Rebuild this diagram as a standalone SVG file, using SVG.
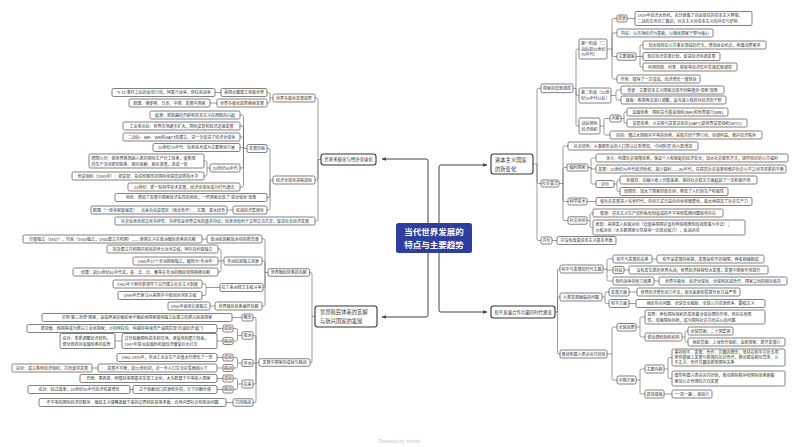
<svg xmlns="http://www.w3.org/2000/svg" width="800" height="447" viewBox="0 0 800 447">
<defs>
<marker id="ah" viewBox="0 0 10 10" refX="9" refY="5" markerWidth="4.5" markerHeight="4.5" markerUnits="userSpaceOnUse" orient="auto"><path d="M0,1L10,5L0,9z" fill="#444"/></marker>
</defs>
<style>
text{font-family:"Liberation Sans","Noto Sans CJK SC",sans-serif;fill:#333;dominant-baseline:central}
.n rect{fill:#fff;stroke:#4a4a4a;stroke-width:.7}
.n text{font-size:4px;text-anchor:middle}
.n text.l{text-anchor:start}
.m rect{fill:#fff;stroke:#333;stroke-width:1.1}
.m text{font-size:4.4px;text-anchor:middle}
.m text.b{font-size:5.3px;text-anchor:start}
.ln path{fill:none;stroke:#666;stroke-width:.65}
.mc path{fill:none;stroke:#444;stroke-width:1;marker-end:url(#ah)}
</style>
<rect width="800" height="447" fill="#fff"/>

<g id="connectors">
<g class="mc">
<path d="M439,238V167Q439,165 441,165H487"/>
<path d="M439,238V310Q439,312 441,312H487"/>
<path d="M428,238V161Q428,159 426,159H382"/>
<path d="M428,238V315Q428,317 426,317H382"/>
</g>
<g class="ln">
<path d="M533,164H537 M537,164V89.8Q537,88.3 538.5,88.3H541 M537,164V182Q537,183.5 538.5,183.5H541 M537,164V239Q537,240.5 538.5,240.5H541"/>
<path d="M573,88.3H576 M576,88.3V50.5Q576,49 577.5,49H579 M576,88.3V94Q576,95.5 577.5,95.5H579 M576,88.3V124.5Q576,126 577.5,126H579"/>
<path d="M607,49H612 M612,49V20Q612,18.5 613.5,18.5H617 M612,49V34.5Q612,33 613.5,33H617 M612,49V55Q612,56.5 613.5,56.5H617 M612,49V77.5Q612,79 613.5,79H617"/>
<path d="M627,18.5H635"/>
<path d="M636,56.5H640 M640,56.5V46.5Q640,45 641.5,45H643 M640,56.5H643 M640,56.5V65.5Q640,67 641.5,67H643"/>
<path d="M611,95.5H616 M616,95.5V91.5Q616,90 617.5,90H621 M616,95.5V98.5Q616,100 617.5,100H621"/>
<path d="M600,126H604 M604,126V120Q604,118.5 605.5,118.5H610 M604,126V133.5Q604,135 605.5,135H610"/>
<path d="M621,118.5H624 M624,118.5V113.5Q624,112 625.5,112H627 M624,118.5V121.5Q624,123 625.5,123H627"/>
<path d="M559,183.5H563 M563,183.5V147.5Q563,146 564.5,146H568 M563,183.5V169Q563,167.5 564.5,167.5H567 M563,183.5V200Q563,201.5 564.5,201.5H568 M563,183.5V219Q563,220.5 564.5,220.5H568"/>
<path d="M588,167.5H591 M591,167.5V159.5Q591,158 592.5,158H596 M591,167.5V169H596 M591,167.5V182.5Q591,184 592.5,184H596"/>
<path d="M614,184H617 M617,184V181.5Q617,180 618.5,180H620 M617,184V190Q617,191.5 618.5,191.5H620"/>
<path d="M587,201.5H596"/>
<path d="M587,220.5H590 M590,220.5V214.5Q590,213 591.5,213H593 M590,220.5V226Q590,227.5 591.5,227.5H593"/>
<path d="M552,240.5H557"/>
<path d="M555,312H557.5 M557.5,312V270.5Q557.5,269 559,269H560 M557.5,312V298.5Q557.5,297 559,297H560 M557.5,312V352.5Q557.5,354 559,354H560"/>
<path d="M603,269H607 M607,269V260.5Q607,259 608.5,259H613 M607,269V270H613 M607,269V279.5Q607,281 608.5,281H613"/>
<path d="M652,259H657 M624,270H629 M654,281H659"/>
<path d="M602,297H605 M605,297V293.5Q605,292 606.5,292H609 M605,297V302Q605,303.5 606.5,303.5H609"/>
<path d="M629,292H637 M629,303.5H636"/>
<path d="M607,354H612 M612,354V328.5Q612,327 613.5,327H617 M612,354V378.5Q612,380 613.5,380H617"/>
<path d="M636,327H640 M640,327V318.5Q640,317 641.5,317H645 M640,327V335.5Q640,337 641.5,337H645"/>
<path d="M682,337H685 M685,337V332.5Q685,331 686.5,331H688 M685,337V340.5Q685,342 686.5,342H688"/>
<path d="M636,380H640 M640,380V370.5Q640,369 641.5,369H645 M640,380V392.5Q640,394 641.5,394H645"/>
<path d="M664,369H668 M668,369V359Q668,357.5 669.5,357.5H672 M668,369V377Q668,378.5 669.5,378.5H672"/>
<path d="M664,394H672"/>
<path d="M321,159.5H318 M318,159.5V99.5Q318,98 316.5,98H315 M318,159.5V178.5Q318,180 316.5,180H315 M318,159.5V219.5Q318,221 316.5,221H315"/>
<path d="M273,98H270 M270,98V94Q270,92.5 268.5,92.5H267 M270,98V101.5Q270,103 268.5,103H267"/>
<path d="M221,92.5H215 M217,103H210"/>
<path d="M273,180H270 M270,180V150Q270,148.5 268.5,148.5H267 M270,180V196Q270,197.5 268.5,197.5H267 M270,180V208.5Q270,210 268.5,210H267"/>
<path d="M247,148.5H243.5 M243.5,148.5V116.5Q243.5,115 242,115H240 M243.5,148.5V127.5Q243.5,126 242,126H240 M243.5,148.5V138.5Q243.5,137 242,137H240 M243.5,148.5V147.5H240 M243.5,148.5V166.5Q243.5,168 242,168H240 M243.5,148.5V185.5Q243.5,187 242,187H240"/>
<path d="M210,168H207 M207,168V162.5Q207,161 205.5,161H204 M207,168V174.5Q207,176 205.5,176H204"/>
<path d="M233,210H227"/>
<path d="M315,316.5H312 M312,316.5V274Q312,272.5 310.5,272.5H309.5 M312,316.5V361.25Q312,362.75 310.5,362.75H310"/>
<path d="M268,272.5H265 M265,272.5V240.5Q265,239 263.5,239H262 M265,272.5V262.5Q265,261 263.5,261H262 M265,272.5V286Q265,287.5 263.5,287.5H263 M265,272.5V304.5Q265,306 263.5,306H262"/>
<path d="M207,239H202"/>
<path d="M224,261H221 M221,261V250.5Q221,249 219.5,249H218 M221,261H218 M221,261V270.5Q221,272 219.5,272H218"/>
<path d="M220,287.5H206 M206,287.5V285.5Q206,284 204.5,284H202 M206,287.5V294Q206,295.5 204.5,295.5H202"/>
<path d="M215,306H210"/>
<path d="M259,362.75H256 M256,362.75V319Q256,317.5 254.5,317.5H253 M256,362.75V337Q256,335.5 254.5,335.5H253 M256,362.75V363H253 M256,362.75V382.5Q256,384 254.5,384H253 M256,362.75V401Q256,402.5 254.5,402.5H253"/>
<path d="M242,335.5H237.5 M237.5,335.5V330Q237.5,328.5 236,328.5H233 M237.5,335.5V339.5Q237.5,341 236,341H233"/>
<path d="M223,328.5H217 M223,341H217 M122,341H115"/>
<path d="M242,317.5H232"/>
<path d="M242,363H237.5 M237.5,363V359Q237.5,357.5 236,357.5H233 M237.5,363V366.5Q237.5,368 236,368H233"/>
<path d="M223,357.5H217 M223,368H217 M98,368H92"/>
<path d="M242,384H237.5 M237.5,384V380Q237.5,378.5 236,378.5H233 M237.5,384V388Q237.5,389.5 236,389.5H233"/>
<path d="M223,378.5H217 M223,389.5H217 M133,389.5H130"/>
<path d="M233,402.5H226"/>
</g>
</g>

<g id="center">
<rect x="396" y="223" width="76" height="30" rx="2.5" fill="#2e3e9e"/>
<text x="434" y="231.5" font-size="8.5" font-weight="bold" text-anchor="middle" style="fill:#fff">当代世界发展的</text>
<text x="434" y="244.5" font-size="8.5" font-weight="bold" text-anchor="middle" style="fill:#fff">特点与主要趋势</text>
</g>

<g id="zibenzhuyi" class="m"><rect x="491" y="154" width="42" height="20" rx="2.5"/><text class="b" x="495" y="160">资本主义国家</text><text class="b" x="495" y="168.5">的新变化</text></g>
<g id="heping" class="m"><rect x="491" y="306" width="64" height="12" rx="2.5"/><text x="523" y="312">和平发展合作共赢的时代潮流</text></g>
<g id="duojihua" class="m"><rect x="321" y="154" width="55" height="11" rx="2.5"/><text x="348.5" y="159.5">世界多极化与经济全球化</text></g>
<g id="zhimin" class="m"><rect x="315" y="306" width="62" height="21" rx="2.5"/><text class="b" x="320" y="312">世界殖民体系的瓦解</text><text class="b" x="320" y="321">与新兴国家的发展</text></g>

<g id="A1" class="n"><rect x="541" y="84" width="32" height="8.6" rx="1.5"/><text x="557" y="88.3">国家的宏观调控</text></g>
<g id="A2" class="n"><rect x="541" y="180" width="18" height="7" rx="1.5"/><text x="550" y="183.5">社会变迁</text></g>
<g id="A3" class="n"><rect x="541" y="237" width="11" height="7" rx="1.5"/><text x="546.5" y="240.5">评价</text></g>
<g id="H1" class="n"><rect x="557" y="236.5" width="59" height="8" rx="1.5"/><text x="586.5" y="240.5">并没有改变资本主义基本矛盾</text></g>
<g id="B1" class="n"><rect x="579" y="39" width="28" height="20" rx="1.5"/><text class="l" x="581" y="43.5">第一阶段（二</text><text class="l" x="581" y="49">战后到20世纪</text><text class="l" x="581" y="54.5">70年代）</text></g>
<g id="B2" class="n"><rect x="579" y="88" width="32" height="15" rx="1.5"/><text class="l" x="581" y="92.5">第二阶段（20世</text><text class="l" x="581" y="98.5">纪70年代以后）</text></g>
<g id="B3" class="n"><rect x="579" y="118" width="21" height="16" rx="1.5"/><text class="l" x="581.5" y="123">战后国际</text><text class="l" x="581.5" y="129">经济组织</text></g>
<g id="C1" class="n"><rect x="617" y="15" width="10" height="7" rx="1.5"/><text x="622" y="18.5">背景</text></g>
<g id="D1" class="n"><rect x="635" y="11.5" width="117" height="14" rx="1.5"/><text class="l" x="637.5" y="15.5">1929年经济大危机，充分暴露了自由放任的资本主义弊端；</text><text class="l" x="637.5" y="21.5">二战的生死存亡教训，社会主义对资本主义的冲击与影响</text></g>
<g id="C2" class="n"><rect x="617" y="29" width="96" height="8" rx="1.5"/><text x="665" y="33">特征：以市场经济为基础，以强化国家干预为核心</text></g>
<g id="C3" class="n"><rect x="617" y="52.75" width="19" height="7.5" rx="1.5"/><text x="626.5" y="56.5">主要措施</text></g>
<g id="D2" class="n"><rect x="643" y="41" width="123" height="8" rx="1.5"/><text x="704.5" y="45">加大政府在公共事业领域的开支，增加就业机会，刺激消费需求</text></g>
<g id="D3" class="n"><rect x="643" y="52.5" width="77" height="8" rx="1.5"/><text x="681.5" y="56.5">制定经济发展计划，促进经济协调发展</text></g>
<g id="D4" class="n"><rect x="643" y="63" width="94" height="8" rx="1.5"/><text x="690" y="67">利用财政、利率、税收等经济杠杆实施宏观调控</text></g>
<g id="C4" class="n"><rect x="617" y="75" width="83" height="8" rx="1.5"/><text x="658.5" y="79">作用：取得了一定成效，经济增长一度较快</text></g>
<g id="C5" class="n"><rect x="621" y="86" width="103" height="8" rx="1.5"/><text x="672.5" y="90">背景：主要资本主义国家出现不同程度的“滞胀”现象</text></g>
<g id="C6" class="n"><rect x="621" y="96" width="105" height="8" rx="1.5"/><text x="673.5" y="100">措施：各国再次进行调整，适当减少政府对经济的干预</text></g>
<g id="C7" class="n"><rect x="610" y="115" width="11" height="7" rx="1.5"/><text x="615.5" y="118.5">内容</text></g>
<g id="D5" class="n"><rect x="627" y="108" width="101" height="8" rx="1.5"/><text x="677.5" y="112">金融体系：国际货币基金组织(IMF)和世界银行(WB)</text></g>
<g id="D6" class="n"><rect x="627" y="119" width="120" height="8" rx="1.5"/><text x="687" y="123">贸易体系：从关税与贸易总协定(GATT)到世界贸易组织(WTO)</text></g>
<g id="C8" class="n"><rect x="610" y="131" width="152" height="8" rx="1.5"/><text x="686" y="135">目的：通过大国相对平等的协商，采取共同干预行动，协调利益，维护经济秩序</text></g>
<g id="E1" class="n"><rect x="568" y="142" width="130" height="8" rx="1.5"/><text x="633" y="146">社会结构：从事服务业的人口所占比重增加，“中间阶层”的人数增加</text></g>
<g id="E2" class="n"><rect x="567" y="164" width="21" height="7" rx="1.5"/><text x="577.5" y="167.5">“福利国家”</text></g>
<g id="F1" class="n"><rect x="596" y="154" width="192" height="8" rx="1.5"/><text x="692" y="158">含义：构建社会保障体系，保证个人和家庭的经济安全；加大社会服务开支，提供较好的公共福利</text></g>
<g id="F2" class="n"><rect x="596" y="165" width="190" height="8" rx="1.5"/><text x="691" y="169">发展：20世纪70年代经济危机，减少福利——80年代，在提高社会效率和维护社会公平之间寻求新的平衡</text></g>
<g id="F3" class="n"><rect x="596" y="180.5" width="18" height="7" rx="1.5"/><text x="605" y="184">评价</text></g>
<g id="G1" class="n"><rect x="620" y="176" width="137" height="8" rx="1.5"/><text x="688.5" y="180">积极性：在缩小收入分配差距、保持社会稳定方面起到了一定积极作用</text></g>
<g id="G2" class="n"><rect x="620" y="187.5" width="108" height="8" rx="1.5"/><text x="674" y="191.5">局限性：加大了国家财政负担；降低了人们的生产积极性</text></g>
<g id="E3" class="n"><rect x="568" y="198" width="19" height="7" rx="1.5"/><text x="577.5" y="201.5">科学技术</text></g>
<g id="G3" class="n"><rect x="596" y="197.5" width="156" height="8" rx="1.5"/><text x="674" y="201.5">使社会发展进入信息时代，劳动方式日益自动化和智能化，极大地提高了社会生产力</text></g>
<g id="E4" class="n"><rect x="568" y="216.75" width="19" height="7.5" rx="1.5"/><text x="577.5" y="220.5">社会运动</text></g>
<g id="G4" class="n"><rect x="593" y="209" width="130" height="8" rx="1.5"/><text x="658" y="213">根源：资本主义生产资料私有制造成的不平等和贫困问题依然存在</text></g>
<g id="G5" class="n"><rect x="593" y="220" width="152" height="15" rx="1.5"/><text class="l" x="595.5" y="224.5">表现：美国黑人民权运动（迫使美国国会宣布种族隔离和歧视政策为非法）；</text><text class="l" x="595.5" y="230.5">女权运动（大多数国家女性获得一定政治权力），反战运动</text></g>

<g id="I1" class="n"><rect x="560" y="265" width="43" height="8" rx="1.5"/><text x="581.5" y="269">和平与发展的时代主题</text></g>
<g id="I2" class="n"><rect x="560" y="293" width="42" height="8" rx="1.5"/><text x="581" y="297">人类发展面临的问题</text></g>
<g id="I3" class="n"><rect x="560" y="350" width="47" height="8" rx="1.5"/><text x="583.5" y="354">推动构建人类命运共同体</text></g>
<g id="J1" class="n"><rect x="613" y="255" width="39" height="8" rx="1.5"/><text x="632.5" y="259">和平与发展的关系</text></g>
<g id="K1" class="n"><rect x="657" y="255" width="107" height="8" rx="1.5"/><text x="710.5" y="259">和平是发展的前提，发展是和平的保障，两者相辅相成</text></g>
<g id="J2" class="n"><rect x="613" y="266.5" width="11" height="7" rx="1.5"/><text x="618.5" y="270">特征</text></g>
<g id="K2" class="n"><rect x="629" y="266" width="139" height="8" rx="1.5"/><text x="698.5" y="270">没有发生新的世界大战；世界经济获得较大发展，发展中国家作用提升</text></g>
<g id="J3" class="n"><rect x="613" y="277" width="41" height="8" rx="1.5"/><text x="633.5" y="281">制约战争的有力因素</text></g>
<g id="K3" class="n"><rect x="659" y="277" width="128" height="8" rx="1.5"/><text x="723" y="281">世界多极化、经济全球化、全球和区域合作、国家之间的相互依存</text></g>
<g id="J4" class="n"><rect x="609" y="288" width="20" height="8" rx="1.5"/><text x="619" y="292">发展方面</text></g>
<g id="K4" class="n"><rect x="637" y="288" width="103" height="8" rx="1.5"/><text x="688.5" y="292">世界经济增长动力不足，南北差距和贫富分化日益严重</text></g>
<g id="J5" class="n"><rect x="609" y="299.5" width="20" height="8" rx="1.5"/><text x="619" y="303.5">和平方面</text></g>
<g id="K5" class="n"><rect x="636" y="299.5" width="129" height="8" rx="1.5"/><text x="700.5" y="303.5">地区热点问题、全球安全威胁、全球公共资源竞争、霸权主义</text></g>
<g id="Lq1" class="n"><rect x="617" y="323.5" width="19" height="7.5" rx="1.5"/><text x="626.5" y="327">全球治理</text></g>
<g id="M1" class="n"><rect x="645" y="310" width="120" height="14" rx="1.5"/><text class="l" x="647.5" y="314">趋势：原有国际组织仍发挥着全球治理的作用，但存在局限</text><text class="l" x="647.5" y="320">性，加强国际协商，成为国际社会共同关心的问题</text></g>
<g id="M2" class="n"><rect x="645" y="333" width="37" height="8" rx="1.5"/><text x="663.5" y="337">新治理机制和机构</text></g>
<g id="N1" class="n"><rect x="688" y="327" width="45" height="8" rx="1.5"/><text x="710.5" y="331">全球层面：二十国集团</text></g>
<g id="N2" class="n"><rect x="688" y="338" width="97" height="8" rx="1.5"/><text x="736.5" y="342">地区层面：上海合作组织、金砖国家、新开发银行</text></g>
<g id="Lq2" class="n"><rect x="617" y="376" width="19" height="8" rx="1.5"/><text x="626.5" y="380">中国方案</text></g>
<g id="M3" class="n"><rect x="645" y="365" width="19" height="8" rx="1.5"/><text x="654.5" y="369">主要内容</text></g>
<g id="N3" class="n"><rect x="672" y="349" width="113" height="17" rx="1.5"/><text class="l" x="674.5" y="352.5">秉持和平、发展、合作、共赢的理念，坚持在和平共处五项</text><text class="l" x="674.5" y="357.5">原则基础上发展与各国的友好合作，推动建设相互尊重、公</text><text class="l" x="674.5" y="362.5">平正义、合作共赢的新型国际关系</text></g>
<g id="N4" class="n"><rect x="672" y="371" width="113" height="15" rx="1.5"/><text class="l" x="674.5" y="375.5">倡导构建人类命运共同体，推动国际秩序和国际体系朝着</text><text class="l" x="674.5" y="381.5">更加公正合理的方向发展</text></g>
<g id="M4" class="n"><rect x="645" y="390" width="19" height="8" rx="1.5"/><text x="654.5" y="394">具体措施</text></g>
<g id="N5" class="n"><rect x="672" y="390" width="40" height="8" rx="1.5"/><text x="692" y="394">“一带一路”，亚投行</text></g>

<g id="P1" class="n"><rect x="273" y="94" width="42" height="8" rx="1.5"/><text x="294" y="98">世界多极化发展趋势</text></g>
<g id="Q1" class="n"><rect x="221" y="88.5" width="46" height="8" rx="1.5"/><text x="244" y="92.5">美国企图建立单极世界</text></g>
<g id="R1" class="n"><rect x="112" y="88.5" width="103" height="8" rx="1.5"/><text x="163.5" y="92.5">“9·11”事件之后的反恐行动，阿富汗战争，伊拉克战争</text></g>
<g id="Q2" class="n"><rect x="217" y="99" width="50" height="8" rx="1.5"/><text x="242" y="103">世界多极化趋势继续发展</text></g>
<g id="R2" class="n"><rect x="129" y="99" width="81" height="8" rx="1.5"/><text x="169.5" y="103">欧盟、俄罗斯、日本、中国、发展中国家</text></g>
<g id="P2" class="n"><rect x="273" y="176" width="42" height="8" rx="1.5"/><text x="294" y="180">经济全球化进程加快</text></g>
<g id="Q3" class="n"><rect x="247" y="144.5" width="20" height="8" rx="1.5"/><text x="257" y="148.5">发展历程</text></g>
<g id="R3" class="n"><rect x="150" y="111" width="90" height="8" rx="1.5"/><text x="195" y="115">起源：新航路的开辟和资本主义在西欧的兴起</text></g>
<g id="R4" class="n"><rect x="123" y="122" width="117" height="8" rx="1.5"/><text x="181.5" y="126">工业革命后：世界市场逐步扩大，国际贸易和经济迅速发展</text></g>
<g id="R5" class="n"><rect x="123" y="133" width="117" height="8" rx="1.5"/><text x="181.5" y="137">二战后：IMF、WB和GATT的建立，进一步促进了经济全球化</text></g>
<g id="R6" class="n"><rect x="153" y="143.5" width="87" height="8" rx="1.5"/><text x="196.5" y="147.5">20世纪70年代：信息技术成为主要推动力量</text></g>
<g id="R7" class="n"><rect x="210" y="164" width="30" height="8" rx="1.5"/><text x="225" y="168">20世纪90年代</text></g>
<g id="S1" class="n"><rect x="89" y="154" width="115" height="14" rx="1.5"/><text class="l" x="91.5" y="158">跨国公司：把世界各国纳入新的国际生产分工体系，使各国</text><text class="l" x="91.5" y="164">的生产活动密切联系、相互依赖、相互渗透，连成一体</text></g>
<g id="S2" class="n"><rect x="72" y="172" width="132" height="8" rx="1.5"/><text x="138" y="176">世贸组织（1995年）：把贸易、投资和服务的国际化提高到新的水平</text></g>
<g id="R8" class="n"><rect x="128" y="183" width="112" height="8" rx="1.5"/><text x="184" y="187">21世纪：新一轮科学技术发展，经济全球化成为时代潮流</text></g>
<g id="Q4" class="n"><rect x="115" y="193.5" width="152" height="8" rx="1.5"/><text x="191" y="197.5">风险：增加了发展中国家经济失控的风险；一些国家出现了“逆全球化”现象</text></g>
<g id="Q5" class="n"><rect x="233" y="206" width="34" height="8" rx="1.5"/><text x="250" y="210">区域经济集团化</text></g>
<g id="R9" class="n"><rect x="91" y="206" width="136" height="8" rx="1.5"/><text x="159" y="210">欧盟（一体化程度最高）、北美自由贸易区（南北合作）、东盟、亚太经合</text></g>
<g id="P3" class="n"><rect x="115" y="217" width="200" height="8" rx="1.5"/><text x="215" y="221">社会信息化和文化多样性：多样性是世界文化的基本特征；信息化有利于文明交流共享，促进社会经济发展</text></g>

<g id="T1" class="n"><rect x="268" y="268.75" width="41.5" height="7.5" rx="1.5"/><text x="288.75" y="272.5">世界殖民体系的瓦解</text></g>
<g id="U1" class="n"><rect x="207" y="235" width="55" height="8" rx="1.5"/><text x="234.5" y="239">亚洲民族解放运动的新高潮</text></g>
<g id="V1" class="n"><rect x="23" y="235" width="179" height="8" rx="1.5"/><text x="112.5" y="239">印度独立（1947），印尼（1945独立，1950建立共和国）——帝国主义在亚洲殖民体系的瓦解</text></g>
<g id="U2" class="n"><rect x="224" y="257" width="38" height="8" rx="1.5"/><text x="243" y="261">非洲民族独立风暴</text></g>
<g id="V2" class="n"><rect x="107" y="245" width="111" height="8" rx="1.5"/><text x="162.5" y="249">埃及建立共和国并收回苏伊士运河主权，阿尔及利亚独立</text></g>
<g id="V3" class="n"><rect x="133" y="257" width="85" height="8" rx="1.5"/><text x="175.5" y="261">1960年17个非洲国家独立，被称为“非洲年”</text></g>
<g id="V4" class="n"><rect x="73" y="268" width="145" height="8" rx="1.5"/><text x="145.5" y="272">结果：到20世纪60年代末，英、法、比、葡等在非洲的殖民帝国相继瓦解</text></g>
<g id="U3" class="n"><rect x="220" y="283.5" width="43" height="8" rx="1.5"/><text x="241.5" y="287.5">拉丁美洲捍卫主权斗争</text></g>
<g id="V5" class="n"><rect x="113" y="280" width="89" height="8" rx="1.5"/><text x="157.5" y="284">1961年卡斯特罗领导下古巴建立社会主义制度</text></g>
<g id="V6" class="n"><rect x="118" y="291.5" width="84" height="8" rx="1.5"/><text x="160" y="295.5">1999年巴拿马从美国手中收回运河区主权</text></g>
<g id="U4" class="n"><rect x="215" y="302" width="47" height="8" rx="1.5"/><text x="238.5" y="306">世界殖民体系最终瓦解</text></g>
<g id="V7" class="n"><rect x="168" y="302" width="42" height="8" rx="1.5"/><text x="189" y="306">1990年纳米比亚独立</text></g>
<g id="T2" class="n"><rect x="259" y="358.75" width="51" height="7.5" rx="1.5"/><text x="284.5" y="362.5">发展中国家的成就与挑战</text></g>
<g id="W1" class="n"><rect x="242" y="314" width="11" height="7" rx="1.5"/><text x="247.5" y="317.5">概念</text></g>
<g id="X1" class="n"><rect x="42" y="313.5" width="190" height="8" rx="1.5"/><text x="137" y="317.5">又称“第三世界”国家，是指原来的殖民地半殖民地国家取得独立后建立的新兴民族国家</text></g>
<g id="W2" class="n"><rect x="242" y="331.75" width="11" height="7.5" rx="1.5"/><text x="247.5" y="335.5">亚洲</text></g>
<g id="Y1" class="n"><rect x="223" y="325" width="10" height="7" rx="1.5"/><text x="228" y="328.5">成就</text></g>
<g id="Z1" class="n"><rect x="27" y="324.5" width="190" height="8" rx="1.5"/><text x="122" y="328.5">新加坡、韩国等成为新兴工业化国家；沙特阿拉伯、科威特等海湾产油国实现“石油经济”起飞</text></g>
<g id="Y2" class="n"><rect x="223" y="337.5" width="10" height="7" rx="1.5"/><text x="228" y="341">挑战</text></g>
<g id="Z2" class="n"><rect x="122" y="333.5" width="95" height="15" rx="1.5"/><text class="l" x="124.5" y="338">过分依赖国际资本和市场，承受风险能力较差，</text><text class="l" x="124.5" y="344">1997年亚洲金融危机使经济遭受巨大打击</text></g>
<g id="Z3" class="n"><rect x="60" y="333.5" width="55" height="15" rx="1.5"/><text class="l" x="62.5" y="338">应对：重新调整经济结构，</text><text class="l" x="62.5" y="344">健全政府对金融体系的监管</text></g>
<g id="W3" class="n"><rect x="242" y="359.5" width="11" height="7" rx="1.5"/><text x="247.5" y="363">非洲</text></g>
<g id="Y3" class="n"><rect x="223" y="354" width="10" height="7" rx="1.5"/><text x="228" y="357.5">成就</text></g>
<g id="Z4" class="n"><rect x="117" y="353.5" width="100" height="8" rx="1.5"/><text x="167" y="357.5">1960-1970年，非洲工农业生产总值大约增长了一倍</text></g>
<g id="Y4" class="n"><rect x="223" y="364.5" width="10" height="7" rx="1.5"/><text x="228" y="368">挑战</text></g>
<g id="Z5" class="n"><rect x="98" y="364" width="119" height="8" rx="1.5"/><text x="157.5" y="368">发展不平衡，到21世纪初，近一半人口生活在贫困线以下</text></g>
<g id="Z6" class="n"><rect x="12" y="364" width="80" height="8" rx="1.5"/><text x="52" y="368">应对：成立各种经济组织，共同谋求发展</text></g>
<g id="W4" class="n"><rect x="242" y="380" width="11" height="8" rx="1.5"/><text x="247.5" y="384">拉美</text></g>
<g id="Y5" class="n"><rect x="223" y="375" width="10" height="7" rx="1.5"/><text x="228" y="378.5">成就</text></g>
<g id="Z7" class="n"><rect x="80" y="374.5" width="137" height="8" rx="1.5"/><text x="148.5" y="378.5">巴西、墨西哥、阿根廷等国基本实现工业化，大多数属于中等收入国家</text></g>
<g id="Y6" class="n"><rect x="223" y="386" width="10" height="7" rx="1.5"/><text x="228" y="389.5">挑战</text></g>
<g id="Z8" class="n"><rect x="133" y="385.5" width="84" height="8" rx="1.5"/><text x="175" y="389.5">过于依赖出口资源和外资，欠下巨额外债</text></g>
<g id="Z9" class="n"><rect x="28" y="385.5" width="102" height="8" rx="1.5"/><text x="79" y="389.5">应对：经过改革，20世纪90年代经济恢复增长</text></g>
<g id="W5" class="n"><rect x="233" y="398.75" width="20" height="7.5" rx="1.5"/><text x="243" y="402.5">共同挑战</text></g>
<g id="Z10" class="n"><rect x="39" y="398.5" width="187" height="8" rx="1.5"/><text x="132.5" y="402.5">不平等的国际经济旧秩序、殖民主义侵略遗留下来的边界和民族等矛盾、自身内部社会和政治问题</text></g>

<text x="399" y="441" font-size="5" text-anchor="middle" style="fill:#c8c8c8">Powered by xmind</text>
</svg>
